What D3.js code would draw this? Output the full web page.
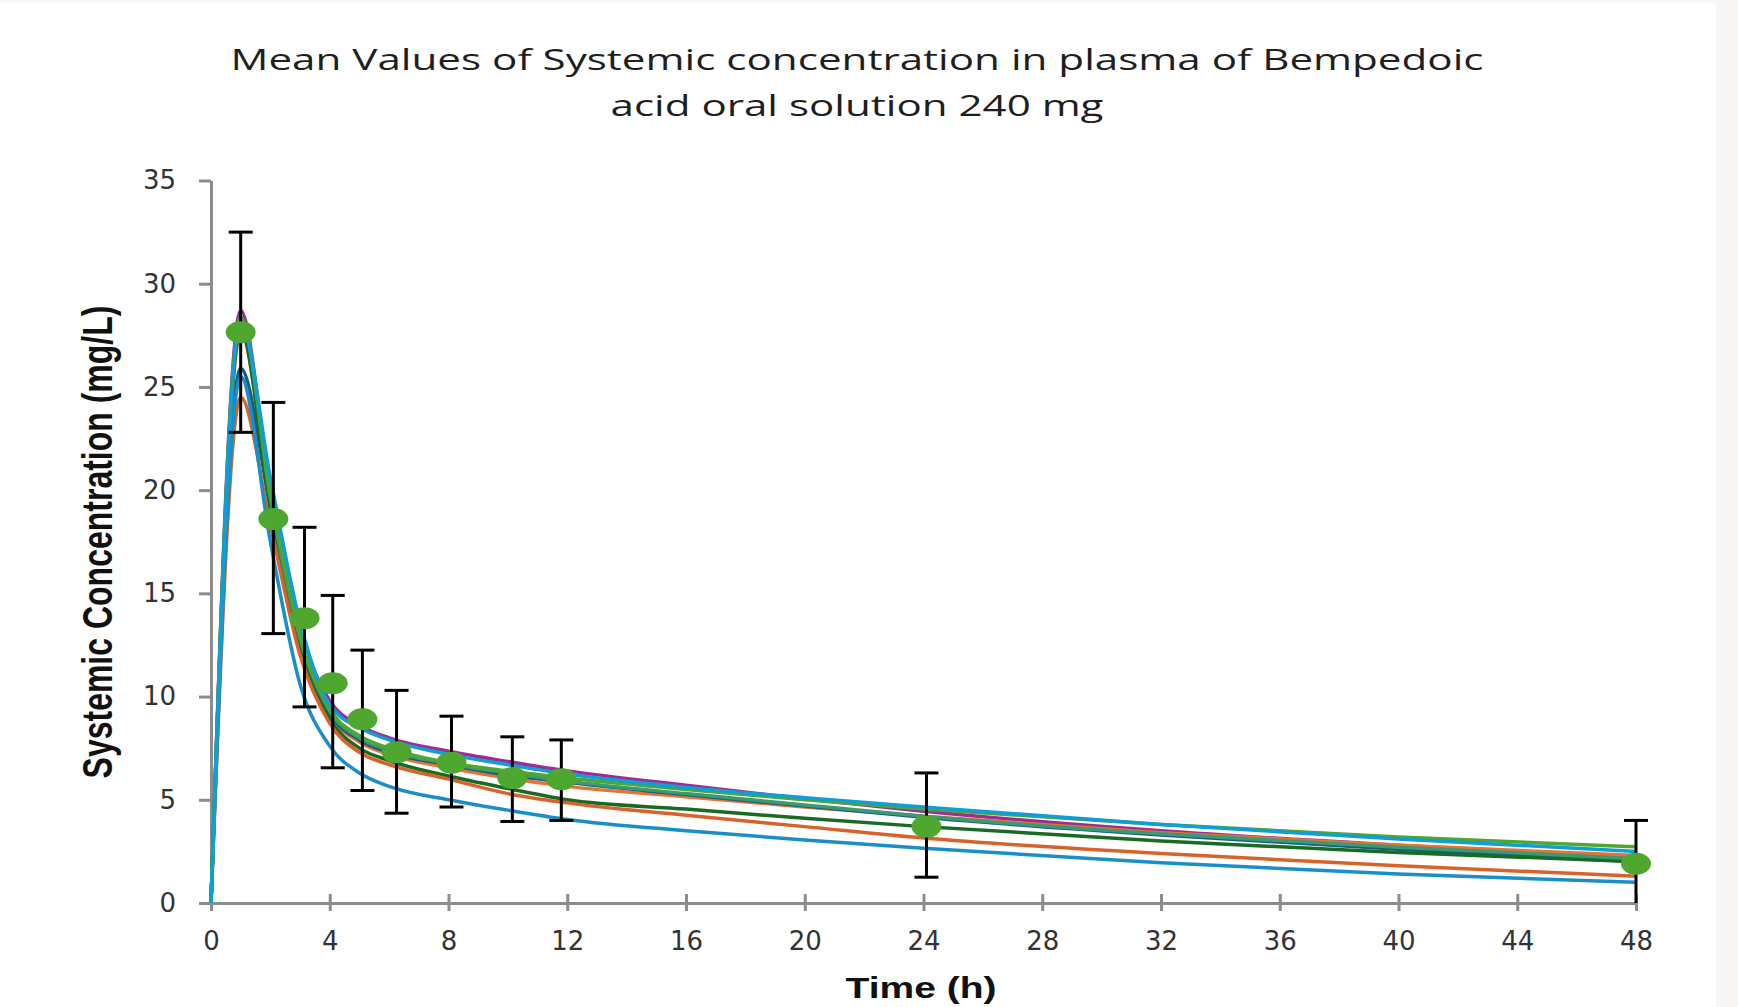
<!DOCTYPE html>
<html>
  <head>
   <meta charset="utf-8" />
   <title>Bempedoic acid plasma concentration</title>
   <style>
     body { margin: 0; background: #f8f7f5; }
   </style>
  </head>
  <body>
<svg id="chart" width=1738 height=1007></svg>
  <script src="https://d3js.org/d3.v7.min.js"></script>
  <script>

    // simulated curves, sampled at these times (h)
    var simTimes = [0, 1, 2, 3, 4, 5, 6, 8, 10, 12, 16, 20, 24, 32, 40, 48];

    var simPurple    = [0, 28.7, 19.8, 13.2, 9.8, 8.6, 8.0, 7.35, 6.85, 6.4, 5.7, 5.05, 4.45, 3.5, 2.8, 2.2];
    var simLightBlue = [0, 28.1, 20.6, 13.6, 9.6, 8.5, 7.9, 7.2, 6.7, 6.25, 5.6, 5.1, 4.65, 3.8, 3.1, 2.5];
    var simGreen     = [0, 28.3, 20.0, 13.0, 9.4, 8.1, 7.5, 6.8, 6.4, 6.05, 5.5, 5.0, 4.55, 3.8, 3.2, 2.72];
    var simTeal      = [0, 28.4, 19.6, 12.8, 9.3, 8.0, 7.4, 6.75, 6.3, 5.9, 5.3, 4.75, 4.2, 3.35, 2.7, 2.15];
    var simDarkBlue  = [0, 25.9, 19.2, 12.9, 9.2, 7.9, 7.3, 6.7, 6.2, 5.85, 5.25, 4.7, 4.15, 3.3, 2.6, 2.0];
    var simOrange    = [0, 27.6, 19.5, 12.7, 9.1, 7.8, 7.2, 6.55, 6.05, 5.65, 5.15, 4.65, 4.2, 3.4, 2.8, 2.3];
    var simDarkGreen = [0, 27.8, 19.0, 12.3, 8.9, 7.5, 6.9, 6.15, 5.55, 5.0, 4.55, 4.1, 3.7, 3.0, 2.45, 2.0];
    var simOrange2   = [0, 24.5, 18.3, 12.0, 8.7, 7.3, 6.7, 6.0, 5.3, 4.85, 4.25, 3.7, 3.15, 2.4, 1.8, 1.3];
    var simBlue2     = [0, 25.5, 17.5, 10.6, 7.6, 6.3, 5.65, 5.0, 4.5, 4.05, 3.5, 3.05, 2.65, 1.95, 1.4, 1.0];

    // observed means with error bars
    var obsTimes = [1, 2.1, 3.15, 4.1, 5.1, 6.25, 8.1, 10.15, 11.8, 24.1, 48];
    var obsMean  = [27.65, 18.6, 13.8, 10.65, 8.9, 7.3, 6.8, 6.05, 6.0, 3.7, 1.9];
    var obsHigh  = [32.5, 24.25, 18.2, 14.9, 12.25, 10.3, 9.05, 8.05, 7.9, 6.3, 4.0];
    var obsLow   = [22.8, 13.05, 9.5, 6.55, 5.45, 4.35, 4.65, 3.95, 4.0, 1.25, 0];

    var xTicks = [0, 4, 8, 12, 16, 20, 24, 28, 32, 36, 40, 44, 48];
    var yTicks = [0, 5, 10, 15, 20, 25, 30, 35];

    var series = [
      {name: "purple", color: "#a02b93", values: simPurple},
      {name: "orange", color: "#e97132", values: simOrange},
      {name: "darkblue", color: "#156082", values: simDarkBlue},
      {name: "darkgreen", color: "#196b24", values: simDarkGreen},
      {name: "orange2", color: "#d8632a", values: simOrange2},
      {name: "blue2", color: "#1a8ec8", values: simBlue2},
      {name: "teal", color: "#3a9a72", values: simTeal},
      {name: "green", color: "#4ea72e", values: simGreen},
      {name: "lightblue", color: "#0f9ed5", values: simLightBlue}
    ];

    var svg = d3.select("#chart");

    svg.append("rect")
      .attr("x", 0).attr("y", 3)
      .attr("width", 1716).attr("height", 1004)
      .attr("fill", "white");

    var x = d3.scaleLinear().domain([0, 48]).range([211, 1636]);
    var y = d3.scaleLinear().domain([0, 35]).range([903, 180.5]);

    // title
    var title = svg.append("g")
      .attr("font-family", "'Open Sans', sans-serif")
      .attr("font-size", 30)
      .attr("fill", "#1f1f1f")
      .attr("text-anchor", "middle");
    title.append("text")
      .attr("x", 857).attr("y", 70)
      .attr("textLength", 1253).attr("lengthAdjust", "spacingAndGlyphs")
      .text("Mean Values of Systemic concentration in plasma of Bempedoic");
    title.append("text")
      .attr("x", 857).attr("y", 116)
      .attr("textLength", 493).attr("lengthAdjust", "spacingAndGlyphs")
      .text("acid oral solution 240 mg");

    // axes
    var yAxis = svg.append("g")
      .attr("transform", "translate(211,0)")
      .call(d3.axisLeft(y).tickValues(yTicks).tickSizeInner(12).tickSizeOuter(0).tickPadding(23));

    var xAxis = svg.append("g")
      .attr("transform", "translate(0,903)")
      .call(d3.axisBottom(x).tickValues(xTicks).tickSizeInner(8).tickSizeOuter(0).tickPadding(21));
    xAxis.selectAll(".tick line").attr("y1", -9);

    svg.selectAll(".domain, .tick line")
      .attr("stroke", "#8c8c8c")
      .attr("stroke-width", 3);
    svg.selectAll(".tick text")
      .attr("font-family", "'DejaVu Sans', sans-serif")
      .attr("font-size", 26)
      .attr("fill", "#333");

    // axis titles
    svg.append("text")
      .attr("transform", "translate(97,542) scale(1.3,1) rotate(-90)")
      .attr("text-anchor", "middle")
      .attr("dy", "0.35em")
      .attr("font-family", "'Liberation Sans', Arial, sans-serif")
      .attr("font-weight", "bold")
      .attr("font-size", 32)
      .attr("fill", "#111")
      .text("Systemic Concentration (mg/L)");

    svg.append("text")
      .attr("transform", "translate(921,998) scale(1.3,1)")
      .attr("text-anchor", "middle")
      .attr("font-family", "'Liberation Sans', Arial, sans-serif")
      .attr("font-weight", "bold")
      .attr("font-size", 30)
      .attr("fill", "#111")
      .text("Time (h)");

    // simulated lines
    var line = d3.line()
      .x(function(d, i){ return x(simTimes[i]); })
      .y(function(d){ return y(d); })
      .curve(d3.curveMonotoneX);

    svg.append("g").selectAll("path")
      .data(series)
      .enter().append("path")
      .attr("d", function(s){ return line(s.values); })
      .attr("fill", "none")
      .attr("stroke", function(s){ return s.color; })
      .attr("stroke-width", 3.5)
      .attr("stroke-linejoin", "round");

    // error bars
    var bars = svg.append("g")
      .attr("stroke", "black")
      .attr("stroke-width", 3);
    obsTimes.forEach(function(t, i){
      var cx = x(t);
      bars.append("line")
        .attr("x1", cx).attr("x2", cx)
        .attr("y1", y(obsHigh[i])).attr("y2", y(obsLow[i]));
      bars.append("line")
        .attr("x1", cx - 12).attr("x2", cx + 12)
        .attr("y1", y(obsHigh[i])).attr("y2", y(obsHigh[i]));
      if (obsLow[i] > 0) {
        bars.append("line")
          .attr("x1", cx - 12).attr("x2", cx + 12)
          .attr("y1", y(obsLow[i])).attr("y2", y(obsLow[i]));
      }
    });

    // observed means
    svg.append("g").selectAll("ellipse")
      .data(obsMean)
      .enter().append("ellipse")
      .attr("cx", function(d, i){ return x(obsTimes[i]); })
      .attr("cy", function(d){ return y(d); })
      .attr("rx", 15)
      .attr("ry", 11)
      .attr("fill", "#4ea72e");

  </script>
  </body>
</html>
